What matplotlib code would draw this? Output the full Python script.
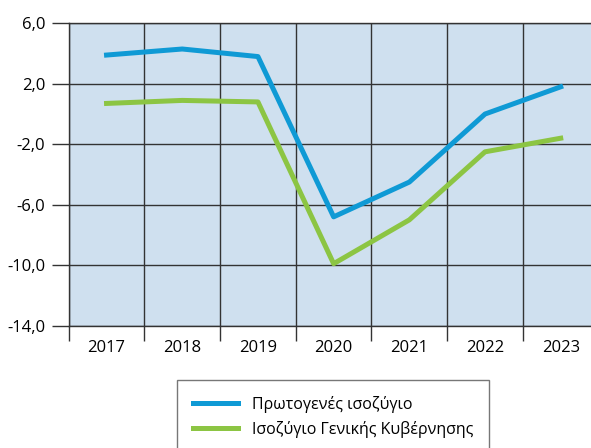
import matplotlib
matplotlib.use("Agg")
import matplotlib.pyplot as plt
import numpy as np

# data
years = ["2017", "2018", "2019", "2020", "2021", "2022", "2023"]
primary_balance = [3.9, 4.3, 3.8, -6.8, -4.5, 0.0, 1.8]
general_gov_balance = [0.7, 0.9, 0.8, -9.9, -7.0, -2.5, -1.6]
y_ticks = [6, 2, -2, -6, -10, -14]
labels = ["Πρωτογενές ισοζύγιο", "Ισοζύγιο Γενικής Κυβέρνησης"]

plt.rcParams['font.family'] = ['Open Sans', 'DejaVu Sans']

fig = plt.figure(figsize=(5.91, 4.48), dpi=100)
ax = fig.add_axes([68.7 / 591, 1 - 325.7 / 448, 1 - 68.7 / 591, (325.7 - 23.3) / 448])
ax.set_facecolor("#cfe0ef")

x = np.arange(len(years))
ax.plot(x, primary_balance, color="#0f9ad5", lw=3.6, label=labels[0], zorder=3)
ax.plot(x, general_gov_balance, color="#8cc543", lw=3.6, label=labels[1], zorder=3)

ax.set_xlim(-0.5, 6.4)
ax.set_ylim(-14, 6)

# gridlines between categories
bounds = np.arange(len(years) + 1) - 0.5
ax.set_xticks(bounds[:-1])
ax.set_xticklabels([])
ax.set_xticks(x, minor=True)
ax.set_xticklabels(years, minor=True, fontsize=12)
ax.tick_params(axis='x', which='major', length=11, width=1, color="#333333")
ax.tick_params(axis='x', which='minor', length=0, pad=10)

ax.set_yticks(y_ticks)
ax.set_yticklabels([f"{v:.1f}".replace(".", ",") for v in y_ticks], fontsize=12)
ax.tick_params(axis='y', length=12, width=1, color="#333333", pad=5)

ax.grid(True, which='major', color="#333333", lw=1)
ax.set_axisbelow(True)
for s in ax.spines.values():
    s.set_color("#333333")
    s.set_linewidth(1)
ax.spines['right'].set_visible(False)

leg = fig.legend(loc="upper left", bbox_to_anchor=(177 / 591, 1 - 380 / 448),
                 fontsize=11.5, frameon=True, fancybox=False, edgecolor="#555555",
                 handlelength=2.8, handletextpad=0.9, borderpad=1.0,
                 labelspacing=0.5, borderaxespad=0)
leg.get_frame().set_linewidth(1)

plt.savefig("out.png", dpi=100)
